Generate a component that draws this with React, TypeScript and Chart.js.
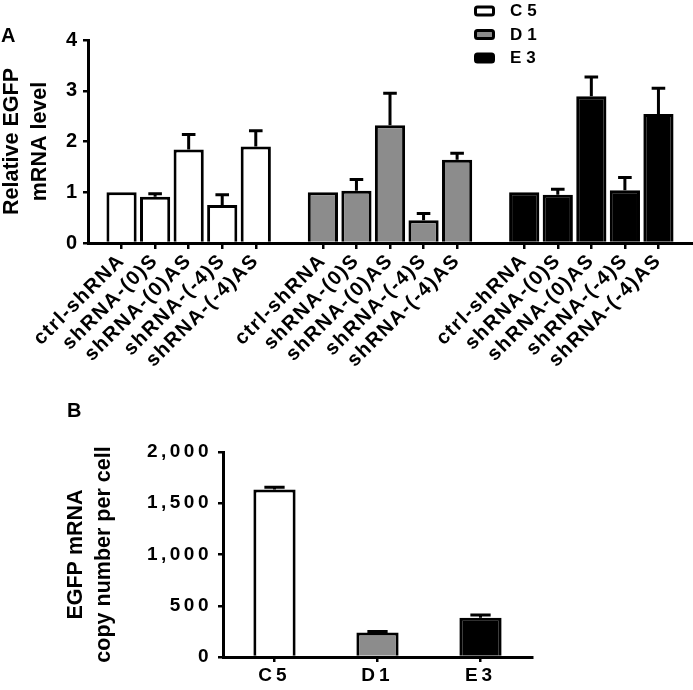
import React, { useEffect, useRef } from 'react';
import { Chart, registerables } from 'chart.js';

Chart.register(...registerables);

// ---------- data ----------
const cellLines = ['C5', 'D1', 'E3'];
const constructs = ['ctrl-shRNA', 'shRNA-(0)S', 'shRNA-(0)AS', 'shRNA-(-4)S', 'shRNA-(-4)AS'];
const c5Mean = [1.0, 0.91, 1.84, 0.75, 1.9];
const c5Err = [0, 0.06, 0.3, 0.2, 0.31];
const d1Mean = [1.0, 1.03, 2.32, 0.45, 1.64];
const d1Err = [0, 0.22, 0.63, 0.13, 0.13];
const e3Mean = [1.0, 0.95, 2.89, 1.04, 2.54];
const e3Err = [0, 0.11, 0.38, 0.25, 0.51];
const relTicks = [0, 1, 2, 3, 4];
const copyMean = [1634, 240, 382];
const copyErr = [22, 8, 28];
const copyTicks = [0, 500, 1000, 1500, 2000];

const FAMILY = '"Liberation Sans", Arial, Helvetica, sans-serif';
const fills = ['#ffffff', '#8c8c8c', '#000000'];

// x position (linear scale units) of bar i in group g: one empty slot between groups
const slot = (g: number, i: number) => g * (constructs.length + 1) + i + 1;
const allSlots: number[] = [];
const slotLabel: Record<number, string> = {};
cellLines.forEach((_, g) => constructs.forEach((c, i) => { allSlots.push(slot(g, i)); slotLabel[slot(g, i)] = c; }));

// ---------- plugins ----------
const errorBarPlugin = {
  id: 'errorBars',
  afterDatasetsDraw(chart: any, _args: any, opts: any) {
    const ctx = chart.ctx;
    const yScale = chart.scales.y;
    ctx.save();
    ctx.strokeStyle = '#000';
    ctx.lineWidth = 3;
    ctx.lineCap = 'butt';
    chart.data.datasets.forEach((_ds: any, di: number) => {
      const meta = chart.getDatasetMeta(di);
      const errs = opts.errors[di] || [];
      meta.data.forEach((bar: any, j: number) => {
        const e = errs[j];
        if (!e) return;
        const v = meta.controller.getParsed(j).y;
        const top = yScale.getPixelForValue(v + e);
        const { x, y, width } = bar.getProps(['x', 'y', 'width'], true);
        const cap = width * opts.capRatio;
        ctx.beginPath();
        ctx.moveTo(x, y);
        ctx.lineTo(x, top);
        ctx.moveTo(x - cap / 2, top);
        ctx.lineTo(x + cap / 2, top);
        ctx.stroke();
      });
    });
    ctx.restore();
  },
};

const spacingPlugin = {
  id: 'spacing',
  afterUpdate(chart: any, _args: any, opts: any) {
    const map = (opts && opts.scales) || {};
    Object.keys(map).forEach((id) => {
      const s = chart.scales[id];
      if (!s || s._lsPatched) return;
      const orig = s.drawLabels;
      s.drawLabels = function (area: any) {
        const ctx = this.ctx;
        ctx.save();
        ctx.letterSpacing = map[id];
        orig.call(this, area);
        ctx.restore();
      };
      s._lsPatched = true;
    });
  },
};

const panelLabelPlugin = {
  id: 'panelLabel',
  afterDraw(chart: any, _args: any, opts: any) {
    if (!opts || !opts.text) return;
    const ctx = chart.ctx;
    ctx.save();
    ctx.fillStyle = '#000';
    ctx.font = `bold 20px ${FAMILY}`;
    ctx.textBaseline = 'alphabetic';
    ctx.fillText(opts.text, opts.x, opts.y);
    ctx.restore();
  },
};

const boxLegendPlugin = {
  id: 'boxLegend',
  afterDraw(chart: any, _args: any, opts: any) {
    if (!opts || !opts.display) return;
    const ctx = chart.ctx;
    ctx.save();
    chart.data.datasets.forEach((ds: any, i: number) => {
      const cy = opts.y + i * opts.step;
      ctx.beginPath();
      ctx.roundRect(opts.x + 1.5, cy - 4, 18, 8, 2);
      ctx.fillStyle = ds.backgroundColor;
      ctx.fill();
      ctx.lineWidth = 3;
      ctx.strokeStyle = '#000';
      ctx.stroke();
      ctx.fillStyle = '#000';
      ctx.font = `bold 17px ${FAMILY}`;
      ctx.letterSpacing = '5px';
      ctx.textBaseline = 'middle';
      ctx.textAlign = 'left';
      ctx.fillText(ds.label, opts.x + 36, cy + 0.5);
      ctx.letterSpacing = '0px';
    });
    ctx.restore();
  },
};

const axisGrid = { display: true, drawOnChartArea: false, drawTicks: true, tickLength: 5, color: '#000', lineWidth: 2.5, offset: false };
const axisBorder = { display: true, color: '#000', width: 3 };

function PanelA() {
  const ref = useRef<HTMLCanvasElement>(null);
  useEffect(() => {
    if (!ref.current) return;
    const means = [c5Mean, d1Mean, e3Mean];
    const chart = new Chart(ref.current, {
      type: 'bar',
      data: {
        datasets: cellLines.map((name, g) => ({
          label: name,
          data: means[g].map((v, i) => ({ x: slot(g, i), y: v })),
          backgroundColor: fills[g],
          borderColor: '#000',
          borderWidth: 3,
          grouped: false,
          barPercentage: 0.9,
          categoryPercentage: 1,
        })),
      },
      options: {
        responsive: false,
        maintainAspectRatio: false,
        animation: false,
        events: [],
        layout: { padding: { top: 40, right: 1, left: 0, bottom: 0 } },
        plugins: {
          legend: { display: false },
          tooltip: { enabled: false },
          errorBars: { errors: [c5Err, d1Err, e3Err], capRatio: 0.45 },
          spacing: { scales: { x: '1.5px' } },
          panelLabel: { text: 'A', x: 1, y: 42 },
          boxLegend: { display: true, x: 474, y: 11, step: 23.5 },
        } as any,
        scales: {
          x: {
            type: 'linear',
            min: 0,
            max: 18,
            offset: false,
            afterBuildTicks: (s: any) => { s.ticks = allSlots.map((v) => ({ value: v })); },
            afterFit: (s: any) => { s.height = 152; },
            ticks: {
              autoSkip: false,
              maxRotation: 45,
              minRotation: 45,
              padding: 0,
              color: '#000',
              font: { family: FAMILY, size: 20, weight: 'bold' },
              callback: (v: any) => slotLabel[v] ?? '',
            },
            grid: { ...axisGrid, tickLength: 6 },
            border: axisBorder,
          },
          y: {
            min: 0,
            max: 4,
            afterBuildTicks: (s: any) => { s.ticks = relTicks.map((v) => ({ value: v })); },
            afterFit: (s: any) => { s.width = 88; },
            ticks: { padding: 6, color: '#000', font: { family: FAMILY, size: 20, weight: 'bold' } },
            grid: axisGrid,
            border: axisBorder,
            title: {
              display: true,
              text: ['Relative EGFP', 'mRNA level'],
              color: '#000',
              font: { family: FAMILY, size: 21.5, weight: 'bold', lineHeight: 1.32 },
              padding: { top: -2, bottom: 0 },
            },
          },
        } as any,
      },
      plugins: [errorBarPlugin, spacingPlugin, panelLabelPlugin, boxLegendPlugin],
    });
    return () => chart.destroy();
  }, []);
  return (
    <canvas
      ref={ref}
      width={693}
      height={395}
      style={{ position: 'absolute', left: 0, top: 0, width: 693, height: 395 }}
    />
  );
}

function PanelB() {
  const ref = useRef<HTMLCanvasElement>(null);
  useEffect(() => {
    if (!ref.current) return;
    const chart = new Chart(ref.current, {
      type: 'bar',
      data: {
        labels: cellLines,
        datasets: [
          {
            label: 'EGFP copies',
            data: copyMean,
            backgroundColor: fills,
            borderColor: '#000',
            borderWidth: 3,
            barPercentage: 0.41,
            categoryPercentage: 1,
          },
        ],
      },
      options: {
        responsive: false,
        maintainAspectRatio: false,
        animation: false,
        events: [],
        layout: { padding: { top: 62, right: 161, left: 0, bottom: 0 } },
        plugins: {
          legend: { display: false },
          tooltip: { enabled: false },
          errorBars: { errors: [copyErr], capRatio: 0.48 },
          spacing: { scales: { x: '4px', y: '3.5px' } },
          panelLabel: { text: 'B', x: 67, y: 27 },
        } as any,
        scales: {
          x: {
            offset: true,
            afterFit: (s: any) => { s.height = 33; },
            ticks: { padding: 2, color: '#000', font: { family: FAMILY, size: 19, weight: 'bold' } },
            grid: axisGrid,
            border: axisBorder,
          },
          y: {
            min: 0,
            max: 2000,
            afterBuildTicks: (s: any) => { s.ticks = copyTicks.map((v) => ({ value: v })); },
            afterFit: (s: any) => { s.width = 223; },
            ticks: {
              padding: 6,
              color: '#000',
              font: { family: FAMILY, size: 19, weight: 'bold' },
              callback: (v: any) => Number(v).toLocaleString('en-US'),
            },
            grid: axisGrid,
            border: axisBorder,
            title: {
              display: true,
              text: ['EGFP mRNA', 'copy number per cell'],
              color: '#000',
              font: { family: FAMILY, size: 21.5, weight: 'bold', lineHeight: 1.32 },
              padding: { top: 62, bottom: 0 },
            },
          },
        } as any,
      },
      plugins: [errorBarPlugin, spacingPlugin, panelLabelPlugin],
    });
    return () => chart.destroy();
  }, []);
  return (
    <canvas
      ref={ref}
      width={693}
      height={300}
      style={{ position: 'absolute', left: 0, top: 390, width: 693, height: 300 }}
    />
  );
}

export default function App() {
  return (
    <div style={{ position: 'absolute', left: 0, top: 0, width: 693, height: 690, background: '#fff' }}>
      <PanelA />
      <PanelB />
    </div>
  );
}
